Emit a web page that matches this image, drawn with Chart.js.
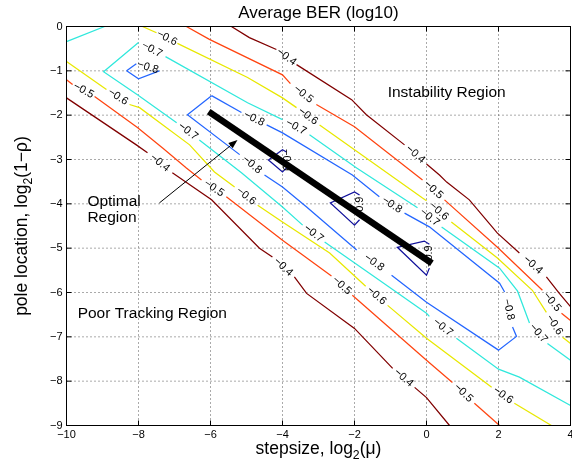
<!DOCTYPE html>
<html>
<head>
<meta charset="utf-8">
<script src="https://cdn.jsdelivr.net/npm/chart.js@4.4.1/dist/chart.umd.min.js"></script>
<style>
  html, body { margin: 0; padding: 0; background: #fff; }
</style>
</head>
<body>
<canvas id="c" width="572" height="464"></canvas>
<script>
// contour levels of log10 average BER, and the jet-like colours MATLAB used
const levels = [-0.9, -0.8, -0.7, -0.6, -0.5, -0.4];
const levelColors = ['#12129c', '#2466ff', '#30e8dc', '#e8e800', '#ff4410', '#800000'];

const xTicks = [-10, -8, -6, -4, -2, 0, 2, 4];
const yTicks = [-9, -8, -7, -6, -5, -4, -3, -2, -1, 0];

// each level = list of pieces [log2(mu), log2(1-rho)]; a null is a gap where the label sits
const lines09 = [
  [[-3.89, -2.83], null, [-3.89, -3.19], [-4.0, -3.28], [-4.39, -3.01], [-4.0, -2.78], [-3.89, -2.83]],
  [[-1.86, -4.36], null, [-1.86, -3.80], [-2.0, -3.73], [-2.67, -3.98], [-2.0, -4.48], [-1.86, -4.36]],
  [[0.08, -5.45], null, [0.08, -4.91], [-0.06, -4.84], [-0.81, -4.98], [0.0, -5.61], [0.08, -5.45]]
];
const lines08 = [
  [[-8.33, -1.0], [-8.06, -0.84], null, [-7.42, -1.0], [-8.0, -1.18], [-8.33, -1.0]],
  [[-5.97, -1.56], [-5.14, -1.94], null,
   [-4.44, -2.22], [-4.0, -2.40], [-2.06, -3.35], [-1.31, -3.84], null,
   [-0.61, -4.21], [0.08, -4.52], [2.03, -5.79], [2.17, -5.99], null,
   [2.39, -6.78], [2.5, -6.99], [2.0, -7.30], [0.0, -6.22], [-0.97, -5.61], null,
   [-1.94, -5.04], [-3.33, -4.07], [-4.0, -3.62], [-4.5, -3.35], null,
   [-5.19, -2.89], [-6.64, -1.99], [-5.97, -1.56]]
];
const lines07 = [
  [[-10, -0.34], [-8.94, 0]],
  [[4, -7.53], [3.36, -7.15], null,
   [2.86, -6.69], [2.53, -5.97], [2.03, -5.45], [0.42, -4.52], null,
   [-0.25, -4.09], [-1.94, -3.19], [-3.25, -2.44], null,
   [-4.0, -2.10], [-4.97, -1.72], [-7.25, -0.68], null,
   [-8.0, -0.36], [-8.97, -1.02], [-8.03, -1.54], [-6.94, -2.17], null,
   [-6.31, -2.56], [-5.14, -3.30], [-4.0, -4.07], [-3.44, -4.48], null,
   [-2.83, -4.86], [-1.03, -5.88], [0.0, -6.47], [0.08, -6.54], null,
   [0.83, -7.03], [2.0, -7.73], [2.58, -7.91], [4, -8.55]]
];
const lines06 = [
  [[-7.89, 0], [-7.5, -0.14], null,
   [-6.92, -0.38], [-4.97, -1.15], [-4.0, -1.61], [-3.61, -1.83], null,
   [-2.97, -2.22], [-2.0, -2.78], [-0.11, -3.87], [0.0, -3.93], null,
   [0.69, -4.41], [1.97, -5.22], [2.94, -5.95], [3.33, -6.45], null,
   [3.78, -7.01], [4, -7.15]],
  [[-10, -0.79], [-8.89, -1.42], null,
   [-8.25, -1.76], [-7.97, -1.83], [-6.58, -2.67], [-5.89, -3.28], [-5.33, -3.62], null,
   [-4.69, -4.03], [-4.0, -4.41], [-2.69, -5.11], [-1.69, -5.86], null,
   [-1.08, -6.29], [0.0, -7.03], [1.81, -8.14], null,
   [2.44, -8.50], [3.47, -9]]
];
const lines05 = [
  [[-6.67, 0], [-6.03, -0.29], [-4.0, -1.09], [-3.78, -1.29], null,
   [-3.06, -1.76], [-2.0, -2.26], [-0.11, -3.46], null,
   [0.5, -3.91], [1.97, -4.98], [3.22, -5.95], null,
   [3.75, -6.47], [4, -6.63]],
  [[-10, -1.2], [-9.83, -1.31], null,
   [-9.22, -1.58], [-8.03, -2.28], [-7.33, -2.74], [-6.67, -3.19], [-6.25, -3.46], null,
   [-5.56, -3.84], [-4.0, -4.82], [-2.64, -5.63], null,
   [-2.06, -6.06], [0.0, -7.53], [0.72, -8.03], null,
   [1.33, -8.50], [2.03, -9]]
];
const lines04 = [
  [[-5.42, 0], [-4.92, -0.25], [-4.17, -0.52], null,
   [-3.61, -0.86], [-2.08, -1.65], [-1.67, -1.99], [-0.61, -2.67], null,
   [0.0, -3.10], [0.36, -3.35], [0.56, -3.51], [1.19, -3.91], [1.97, -4.66], [2.58, -5.11], null,
   [3.33, -5.65], [3.69, -6.02], [4, -6.32]],
  [[-10, -1.61], [-8.06, -2.67], [-7.75, -2.85], null,
   [-7.06, -3.30], [-5.97, -3.91], [-4.64, -5.0], [-4.28, -5.20], null,
   [-3.67, -5.65], [-3.33, -6.02], [-2.0, -6.81], [-0.94, -7.71], null,
   [-0.33, -8.14], [0.0, -8.37], [0.64, -9]]
];

// the thick "optimal" ridge and the arrow pointing at it
const optimalPath = [[-6.05, -1.92], [0.15, -5.34]];
const arrowFrom = [-7.42, -3.98];
const arrowTo = [-5.25, -2.56];

const FONT = '"Liberation Sans", Arial, Helvetica, sans-serif';
const MINUS = '\u2212';
function fmtNum(v) { return v < 0 ? MINUS + String(Math.abs(v)) : String(v); }

const contourSets = [lines09, lines08, lines07, lines06, lines05, lines04];
const datasets = [];
const gapLabels = [];

function lineSet(points, color, width) {
  return {
    data: points, borderColor: color, backgroundColor: color, borderWidth: width,
    showLine: true, pointRadius: 0, pointHoverRadius: 0, tension: 0, fill: false
  };
}

// thick black line first, so it is drawn on top
const blackLine = lineSet(optimalPath.map(p => ({ x: p[0], y: p[1] })), '#000', 6.5);
blackLine.borderCapStyle = 'butt';
datasets.push(blackLine);

contourSets.forEach((pieces, k) => {
  pieces.forEach(piece => {
    let seg = [];
    piece.forEach((p, i) => {
      if (p === null) {
        datasets.push(lineSet(seg, levelColors[k], 1.25));
        gapLabels.push({ text: fmtNum(levels[k]), a: piece[i - 1], b: piece[i + 1] });
        seg = [];
      } else {
        seg.push({ x: p[0], y: p[1] });
      }
    });
    datasets.push(lineSet(seg, levelColors[k], 1.25));
  });
});

function drawParts(ctx, parts, size) {
  // parts: [text, isSub], drawn centred on x = 0
  let w = 0;
  parts.forEach(p => {
    ctx.font = (p[1] ? size * 0.7 : size) + 'px ' + FONT;
    w += ctx.measureText(p[0]).width;
  });
  let x = -w / 2;
  parts.forEach(p => {
    ctx.font = (p[1] ? size * 0.7 : size) + 'px ' + FONT;
    ctx.fillText(p[0], x, p[1] ? size * 0.3 : 0);
    x += ctx.measureText(p[0]).width;
  });
}

const decor = {
  id: 'decor',
  beforeDatasetsDraw(chart) {
    const ctx = chart.ctx, a = chart.chartArea, xs = chart.scales.x, ys = chart.scales.y;
    ctx.save();
    ctx.strokeStyle = '#555';
    ctx.lineWidth = 1;
    ctx.setLineDash([1, 3]);
    xTicks.slice(1, -1).forEach(v => {
      const px = xs.getPixelForValue(v);
      ctx.beginPath(); ctx.moveTo(px, a.top); ctx.lineTo(px, a.bottom); ctx.stroke();
    });
    yTicks.slice(1, -1).forEach(v => {
      const py = ys.getPixelForValue(v);
      ctx.beginPath(); ctx.moveTo(a.left, py); ctx.lineTo(a.right, py); ctx.stroke();
    });
    ctx.restore();
  },
  afterDatasetsDraw(chart) {
    const ctx = chart.ctx, a = chart.chartArea, xs = chart.scales.x, ys = chart.scales.y;
    ctx.save();
    ctx.fillStyle = '#000';
    ctx.strokeStyle = '#000';

    // contour labels, rotated along the line
    ctx.font = '11px ' + FONT;
    ctx.textAlign = 'center';
    ctx.textBaseline = 'middle';
    gapLabels.forEach(g => {
      const x1 = xs.getPixelForValue(g.a[0]), y1 = ys.getPixelForValue(g.a[1]);
      const x2 = xs.getPixelForValue(g.b[0]), y2 = ys.getPixelForValue(g.b[1]);
      let ang = Math.atan2(y2 - y1, x2 - x1);
      if (ang > Math.PI / 2 + 0.01) ang -= Math.PI;
      if (ang < -Math.PI / 2 - 0.01) ang += Math.PI;
      ctx.save();
      ctx.translate((x1 + x2) / 2, (y1 + y2) / 2);
      ctx.rotate(ang);
      ctx.fillText(g.text, 0, 0);
      ctx.restore();
    });

    // arrow
    const ax0 = xs.getPixelForValue(arrowFrom[0]), ay0 = ys.getPixelForValue(arrowFrom[1]);
    const ax1 = xs.getPixelForValue(arrowTo[0]), ay1 = ys.getPixelForValue(arrowTo[1]);
    const th = Math.atan2(ay1 - ay0, ax1 - ax0);
    ctx.lineWidth = 1;
    ctx.beginPath(); ctx.moveTo(ax0, ay0);
    ctx.lineTo(ax1 - 7 * Math.cos(th), ay1 - 7 * Math.sin(th)); ctx.stroke();
    ctx.beginPath();
    ctx.moveTo(ax1, ay1);
    ctx.lineTo(ax1 - 9 * Math.cos(th) + 3.5 * Math.sin(th), ay1 - 9 * Math.sin(th) - 3.5 * Math.cos(th));
    ctx.lineTo(ax1 - 9 * Math.cos(th) - 3.5 * Math.sin(th), ay1 - 9 * Math.sin(th) + 3.5 * Math.cos(th));
    ctx.closePath(); ctx.fill();

    // region texts
    ctx.font = '15.5px ' + FONT;
    ctx.textBaseline = 'middle';
    ctx.textAlign = 'center';
    ctx.fillText('Instability Region', xs.getPixelForValue(0.56), ys.getPixelForValue(-1.49));
    ctx.textAlign = 'left';
    ctx.fillText('Poor Tracking Region', xs.getPixelForValue(-9.69), ys.getPixelForValue(-6.47));
    ctx.fillText('Optimal', xs.getPixelForValue(-9.42), ys.getPixelForValue(-3.96));
    ctx.fillText('Region', xs.getPixelForValue(-9.42), ys.getPixelForValue(-4.32));

    // box and inward ticks
    ctx.lineWidth = 1;
    ctx.strokeRect(a.left, a.top, a.right - a.left, a.bottom - a.top);
    ctx.beginPath();
    xTicks.forEach(v => {
      const px = xs.getPixelForValue(v);
      ctx.moveTo(px, a.bottom); ctx.lineTo(px, a.bottom - 5);
      ctx.moveTo(px, a.top); ctx.lineTo(px, a.top + 5);
    });
    yTicks.forEach(v => {
      const py = ys.getPixelForValue(v);
      ctx.moveTo(a.left, py); ctx.lineTo(a.left + 5, py);
      ctx.moveTo(a.right, py); ctx.lineTo(a.right - 5, py);
    });
    ctx.stroke();

    // tick labels
    ctx.font = '11px ' + FONT;
    ctx.textBaseline = 'middle';
    ctx.textAlign = 'center';
    xTicks.forEach(v => ctx.fillText(fmtNum(v), xs.getPixelForValue(v), a.bottom + 9));
    ctx.textAlign = 'right';
    yTicks.forEach(v => ctx.fillText(fmtNum(v), a.left - 4, ys.getPixelForValue(v)));

    // title and axis titles
    ctx.textBaseline = 'alphabetic';
    const cx = (a.left + a.right) / 2;
    ctx.font = '17px ' + FONT;
    ctx.textAlign = 'center';
    ctx.fillText('Average BER (log10)', cx, 18);
    ctx.textAlign = 'left';
    ctx.save();
    ctx.translate(cx, 454);
    drawParts(ctx, [['stepsize, log', 0], ['2', 1], ['(\u03bc)', 0]], 17.5);
    ctx.restore();
    ctx.save();
    ctx.translate(27, (a.top + a.bottom) / 2);
    ctx.rotate(-Math.PI / 2);
    drawParts(ctx, [['pole location, log', 0], ['2', 1], ['(1' + MINUS + '\u03c1)', 0]], 17.5);
    ctx.restore();
    ctx.restore();
  }
};

new Chart(document.getElementById('c'), {
  type: 'scatter',
  data: { datasets },
  options: {
    responsive: false,
    animation: false,
    devicePixelRatio: 1,
    layout: { padding: { top: 26.5, right: 1.5, left: 0, bottom: 0 } },
    plugins: { legend: { display: false }, tooltip: { enabled: false }, title: { display: false } },
    scales: {
      x: {
        type: 'linear', min: -10, max: 4,
        grid: { display: false }, border: { display: false },
        ticks: { display: false, stepSize: 2 },
        afterFit: s => { s.height = 38.5; s.paddingLeft = 0; s.paddingRight = 0; }
      },
      y: {
        type: 'linear', min: -9, max: 0,
        grid: { display: false }, border: { display: false },
        ticks: { display: false, stepSize: 1 },
        afterFit: s => { s.width = 66.5; s.paddingTop = 0; s.paddingBottom = 0; }
      }
    }
  },
  plugins: [decor]
});
</script>
</body>
</html>
